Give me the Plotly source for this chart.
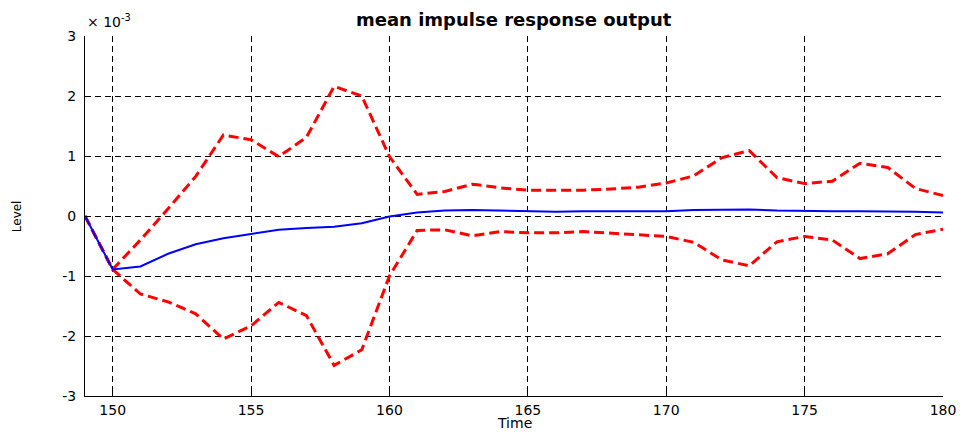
import plotly.graph_objects as go

time = list(range(149, 181))
mean = [0, -0.89, -0.84, -0.63, -0.47, -0.37, -0.30, -0.23, -0.20, -0.18, -0.12,
        -0.01, 0.06, 0.09, 0.10, 0.09, 0.08, 0.07, 0.08, 0.08, 0.08, 0.08,
        0.10, 0.11, 0.11, 0.09, 0.08, 0.08, 0.08, 0.08, 0.07, 0.06]
upper = [0, -0.89, -0.40, 0.12, 0.66, 1.35, 1.27, 0.99, 1.31, 2.16, 2.00,
         0.99, 0.36, 0.41, 0.53, 0.47, 0.43, 0.43, 0.43, 0.45, 0.48, 0.55,
         0.67, 0.97, 1.09, 0.64, 0.54, 0.58, 0.88, 0.81, 0.46, 0.34]
lower = [0, -0.89, -1.30, -1.43, -1.63, -2.05, -1.83, -1.44, -1.66, -2.49, -2.23,
         -1.00, -0.24, -0.23, -0.33, -0.26, -0.28, -0.28, -0.26, -0.29, -0.31, -0.34,
         -0.44, -0.73, -0.83, -0.43, -0.34, -0.40, -0.71, -0.63, -0.31, -0.22]
xticks = [150, 155, 160, 165, 170, 175, 180]
yticks = [-3, -2, -1, 0, 1, 2, 3]

fig = go.Figure()
fig.add_trace(go.Scatter(x=time, y=upper, mode="lines",
                         line=dict(color="#ff0000", width=3, dash="10px,5px")))
fig.add_trace(go.Scatter(x=time, y=lower, mode="lines",
                         line=dict(color="#ff0000", width=3, dash="10px,5px")))
fig.add_trace(go.Scatter(x=time, y=mean, mode="lines",
                         line=dict(color="#0000ff", width=2)))

font = "DejaVu Sans, sans-serif"
grid = dict(showgrid=True, gridcolor="#000000", gridwidth=1, griddash="6px,4px",
            zeroline=False, showline=True, linecolor="#000000", linewidth=1,
            ticks="inside", ticklen=5, tickcolor="#000000", automargin=False,
            tickfont=dict(family=font, size=14, color="#000000"))

fig.update_layout(
    width=966, height=432,
    margin=dict(l=85, r=23, t=36, b=36),
    paper_bgcolor="white", plot_bgcolor="white",
    showlegend=False,
    xaxis=dict(range=[149, 180], tickvals=xticks, ticktext=[str(v) for v in xticks],
               ticklabelstandoff=1, **grid),
    yaxis=dict(range=[-3, 3], tickvals=yticks, ticktext=[str(v) for v in yticks],
               ticklabelstandoff=5, **grid),
    annotations=[
        dict(text="<b>mean impulse response output</b>", xref="paper", yref="paper",
             x=0.5, y=1.047, xanchor="center", yanchor="middle", showarrow=False,
             font=dict(family=font, size=18, color="#000000")),
        dict(text="Time", xref="paper", yref="paper", x=0.5, y=-0.075,
             xanchor="center", yanchor="middle", showarrow=False,
             font=dict(family=font, size=14, color="#000000")),
        dict(text="Level", xref="paper", yref="paper", x=-0.079, y=0.5,
             xanchor="center", yanchor="middle", showarrow=False, textangle=-90,
             font=dict(family=font, size=12, color="#000000")),
        dict(text="× 10<sup>-3</sup>", xref="paper", yref="paper",
             x=0, y=1, xanchor="left", yanchor="bottom", yshift=4,
             showarrow=False,
             font=dict(family=font, size=14, color="#000000")),
    ],
)

fig.write_html("out.html", config={"displayModeBar": False},
               post_script="document.body.style.margin='0';document.body.style.overflow='hidden';")
